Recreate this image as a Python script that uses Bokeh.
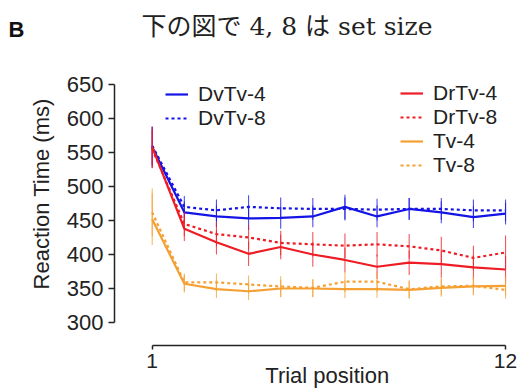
from bokeh.plotting import figure
from bokeh.models import (Range1d, FixedTicker, Legend, LegendItem, Label,
                          ColumnDataSource)
from bokeh.layouts import column
from bokeh.embed import file_html
from bokeh.resources import INLINE

# ---- data ----
trial = list(range(1, 13))
dvtv4 = [558, 462, 456, 453, 454, 456, 470, 456, 467, 462, 455, 460]
dvtv8 = [560, 470, 465, 470, 468, 467, 467, 466, 467, 467, 465, 465]
drtv4 = [558, 438, 418, 401, 411, 400, 392, 382, 388, 386, 381, 378]
drtv8 = [555, 445, 430, 425, 417, 415, 413, 415, 412, 406, 395, 403]
tv4 = [452, 357, 349, 346, 350, 350, 349, 349, 348, 351, 353, 354]
tv8 = [462, 359, 359, 356, 353, 351, 360, 360, 349, 353, 354, 348]

dvtv4_err = [30, 16, 16, 17, 16, 16, 18, 16, 16, 16, 16, 16]
dvtv8_err = [28, 16, 16, 17, 16, 16, 17, 16, 16, 16, 16, 16]
drtv4_err = [30, 18, 18, 18, 18, 18, 18, 18, 18, 20, 18, 20]
drtv8_err = [28, 18, 18, 18, 18, 18, 18, 18, 18, 20, 18, 25]
tv4_err = [38, 13, 13, 13, 13, 13, 13, 13, 13, 13, 13, 13]
tv8_err = [35, 13, 13, 13, 15, 13, 15, 15, 13, 13, 13, 13]

y_ticks = [300, 350, 400, 450, 500, 550, 600, 650]
x_ticks = [1, 12]

series = [
    ("DvTv-4", dvtv4, dvtv4_err, "#1414e6", "solid"),
    ("DvTv-8", dvtv8, dvtv8_err, "#1414e6", "3 3"),
    ("DrTv-4", drtv4, drtv4_err, "#ee1c24", "solid"),
    ("DrTv-8", drtv8, drtv8_err, "#ee1c24", "3 3"),
    ("Tv-4", tv4, tv4_err, "#f5a033", "solid"),
    ("Tv-8", tv8, tv8_err, "#f5a033", "3 3"),
]

FONT = "Liberation Sans"
INK = "#222222"

# ---- header with panel letter and title ----
head = figure(width=519, height=55, output_backend="svg", toolbar_location=None,
              x_range=Range1d(0, 519), y_range=Range1d(0, 55),
              x_axis_location=None, y_axis_location=None, min_border=0)
head.outline_line_color = None
head.xgrid.visible = False
head.ygrid.visible = False
if hasattr(head, "frame_align"):
    head.frame_align = False
head.add_layout(Label(x=8, y=26.5, text="B", text_font=FONT,
                      text_font_style="bold", text_font_size="22px",
                      text_baseline="middle", text_align="left",
                      text_color="#111111"))
head.add_layout(Label(x=141, y=29.5, text="下の図で 4, 8 は set size",
                      text_font="DejaVu Serif, Noto Sans CJK JP",
                      text_font_size="25px", text_baseline="middle",
                      text_align="left", text_color=INK))

# ---- main chart ----
p = figure(width=519, height=335, output_backend="svg", toolbar_location=None,
           x_range=Range1d(-0.174, 12.31), y_range=Range1d(266.2, 685.3),
           min_border_left=114, min_border_right=4, min_border_top=5,
           min_border_bottom=45)
p.outline_line_color = None
p.xgrid.visible = False
p.ygrid.visible = False
if hasattr(p, "frame_align"):
    p.frame_align = False

renderers = {}
for name, vals, errs, color, dash in series:
    src = ColumnDataSource(dict(x=trial, y=vals,
                                lo=[v - e for v, e in zip(vals, errs)],
                                hi=[v + e for v, e in zip(vals, errs)]))
    p.segment(x0="x", y0="lo", x1="x", y1="hi", source=src,
              line_color=color, line_width=1.1, line_alpha=0.75)
    r = p.line("x", "y", source=src, line_color=color, line_width=2.2,
               line_dash=dash)
    renderers[name] = r

ya = p.yaxis[0]
ya.ticker = FixedTicker(ticks=y_ticks)
ya.bounds = (300, 650)
ya.minor_tick_line_color = None
ya.major_tick_out = 6
ya.major_tick_in = 0
ya.major_label_standoff = 5
ya.axis_line_width = 1.5
ya.major_tick_line_width = 1.5
ya.axis_line_color = INK
ya.major_tick_line_color = INK
ya.major_label_text_font = FONT
ya.major_label_text_font_size = "22px"
ya.major_label_text_color = INK
ya.axis_label = "\u00a0\u00a0\u00a0Reaction Time (ms)"
ya.axis_label_text_font = FONT
ya.axis_label_text_font_style = "normal"
ya.axis_label_text_font_size = "22px"
ya.axis_label_text_color = INK
ya.axis_label_standoff = 10

xa = p.xaxis[0]
xa.ticker = FixedTicker(ticks=x_ticks)
xa.bounds = (1, 12)
xa.minor_tick_line_color = None
xa.major_tick_out = 4
xa.major_tick_in = 0
xa.major_label_standoff = 4
xa.axis_line_width = 1.5
xa.major_tick_line_width = 1.5
xa.axis_line_color = INK
xa.major_tick_line_color = INK
xa.major_label_text_font = FONT
xa.major_label_text_font_size = "21px"
xa.major_label_text_color = INK
xa.axis_label = "\u00a0\u00a0\u00a0\u00a0Trial position"
xa.axis_label_text_font = FONT
xa.axis_label_text_font_style = "normal"
xa.axis_label_text_font_size = "22px"
xa.axis_label_text_color = INK
xa.axis_label_standoff = -8


def make_legend(names, loc):
    return Legend(items=[LegendItem(label=n, renderers=[renderers[n]]) for n in names],
                  location=loc, orientation="vertical",
                  background_fill_alpha=0, border_line_alpha=0,
                  padding=0, margin=0, spacing=-2,
                  glyph_width=23, glyph_height=20, label_height=20,
                  label_standoff=10,
                  label_text_font=FONT, label_text_font_size="21px",
                  label_text_color=INK)


p.add_layout(make_legend(["DvTv-4", "DvTv-8"], (51, 215)), "center")
p.add_layout(make_legend(["DrTv-4", "DrTv-8", "Tv-4", "Tv-8"], (286, 168)), "center")

layout = column(head, p, spacing=0)
open("out.html", "w").write(file_html(layout, INLINE))
